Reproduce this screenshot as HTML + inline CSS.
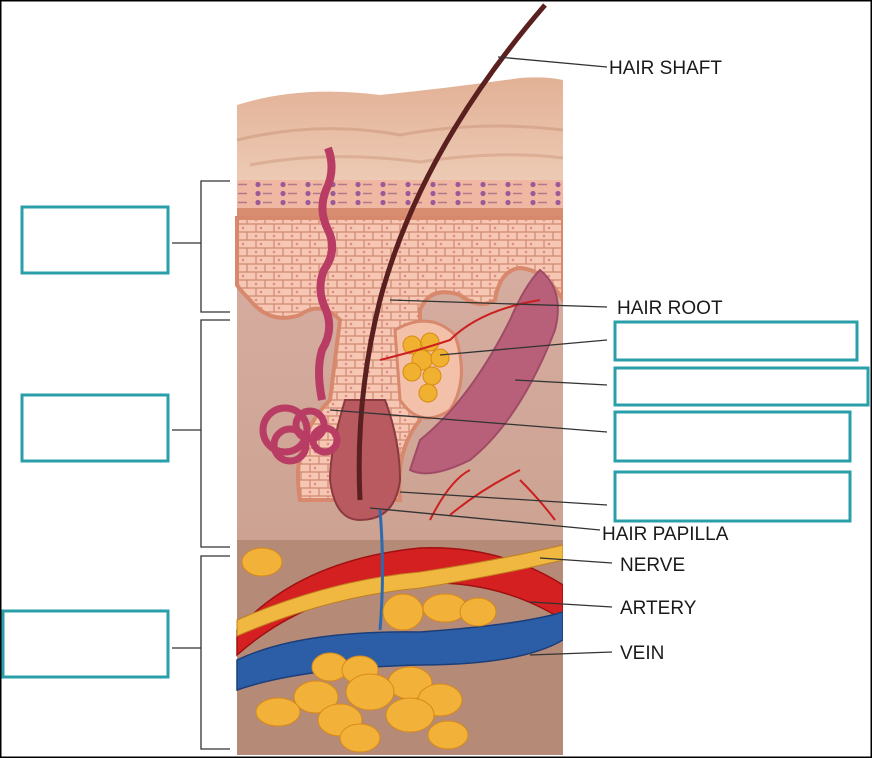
<!DOCTYPE html>
<html><head><meta charset="utf-8"><style>
html,body{margin:0;padding:0;background:#fff}
svg{display:block}
text{font-family:"Liberation Sans",sans-serif;font-size:19px;fill:#1a1a1a}
</style></head><body>
<svg width="872" height="758" viewBox="0 0 872 758">
<defs>
<pattern id="cells" width="18" height="16" patternUnits="userSpaceOnUse">
<rect width="18" height="16" fill="#f6c7b3"/>
<path d="M0 0h18M0 8h18M0 16h18M4 0v8M13 8v8" stroke="#cf8a72" stroke-width="1.2"/>
<circle cx="9" cy="4" r="1.3" fill="#e48a86"/><circle cx="4" cy="12" r="1.3" fill="#e48a86"/>
</pattern>
<pattern id="band" width="25" height="9" patternUnits="userSpaceOnUse">
<rect width="25" height="9" fill="#f0b8a2"/>
<circle cx="8" cy="4.5" r="2.6" fill="#9a5a9a"/><path d="M13 4.5h9" stroke="#b07a8a" stroke-width="1.5"/>
</pattern>
<linearGradient id="top" x1="0" y1="0" x2="0" y2="1"><stop offset="0" stop-color="#e2b196"/><stop offset="1" stop-color="#edcab4"/></linearGradient>
<linearGradient id="bg" x1="0" y1="0" x2="0" y2="1"><stop offset="0" stop-color="#d8b0a4"/><stop offset="1" stop-color="#c69a88"/></linearGradient>
</defs>
<rect x="0.5" y="0.5" width="871" height="757" fill="#fff" stroke="#000" stroke-width="2"/>
<rect x="237" y="180" width="326" height="575" fill="url(#bg)"/>
<rect x="237" y="540" width="326" height="215" fill="#b58a77"/>
<path d="M237 105 Q300 85 380 95 Q450 88 520 78 Q545 76 563 80 V180 H237Z" fill="url(#top)"/>
<path d="M237 140 Q320 120 400 135 Q480 120 563 130" stroke="#d9a98f" fill="none" stroke-width="3"/>
<path d="M250 165 Q330 150 420 162 Q500 150 563 158" stroke="#dcae95" fill="none" stroke-width="3"/>
<rect x="237" y="180" width="326" height="28" fill="url(#band)"/>
<rect x="237" y="208" width="326" height="10" fill="#d88c70"/>
<path d="M237 218 H563 V300 Q545 270 520 268 Q500 270 495 300 Q480 310 460 295 Q430 285 420 310 L420 420 Q395 450 400 500 L300 500 Q290 440 330 400 L340 320 Q320 300 300 315 Q270 325 250 300 Q240 290 237 285Z" fill="url(#cells)" stroke="#d8886c" stroke-width="4"/>
<path d="M395 330 Q430 310 455 335 Q470 380 450 410 Q420 430 400 400Z" fill="#f3c1aa" stroke="#d8886c" stroke-width="3"/>
<g fill="#f0b030" stroke="#d88a10" stroke-width="1">
<circle cx="412" cy="345" r="9"/><circle cx="430" cy="342" r="9"/><circle cx="422" cy="360" r="10"/><circle cx="440" cy="358" r="9"/><circle cx="412" cy="372" r="9"/><circle cx="432" cy="376" r="9"/><circle cx="428" cy="393" r="9"/></g>
<path d="M540 270 Q565 290 555 330 Q520 420 470 460 Q430 480 410 470 L420 440 Q470 400 510 320 Q525 285 540 270Z" fill="#b8607a" stroke="#a04b66" stroke-width="2"/>
<path d="M345 400 Q330 450 330 480 Q335 520 360 520 Q395 520 400 480 Q400 440 385 400Z" fill="#b85a60" stroke="#8a3a40" stroke-width="2"/>
<path d="M328 148 Q336 170 326 190 Q318 210 328 230 Q338 250 324 270 Q316 290 326 310 Q334 330 322 350 Q316 370 322 400" fill="none" stroke="#b83c64" stroke-width="8"/>
<g fill="none" stroke="#b83c64" stroke-width="7"><circle cx="285" cy="430" r="22"/><circle cx="310" cy="425" r="14"/><circle cx="290" cy="445" r="16"/><circle cx="325" cy="440" r="12"/></g>
<path d="M545 5 Q420 150 380 300 Q355 400 360 500" fill="none" stroke="#5a2020" stroke-width="5"/>
<path d="M237 630 Q300 560 420 548 Q500 545 563 585 V620 Q500 580 420 583 Q310 590 237 655Z" fill="#d42020" stroke="#a01010" stroke-width="1.5"/>
<path d="M237 620 Q330 580 420 572 Q500 560 563 545 V560 Q500 575 420 588 Q330 596 237 636Z" fill="#f0b840" stroke="#c08020" stroke-width="1"/>
<path d="M237 660 Q300 630 420 632 Q520 625 563 612 V640 Q520 665 420 665 Q300 668 237 690Z" fill="#2c5ea8" stroke="#1c3e78" stroke-width="1.5"/>
<path d="M380 630 Q385 570 380 510" stroke="#2c6ab0" stroke-width="3" fill="none"/>
<path d="M430 520 Q450 480 470 470 M450 515 Q480 490 520 470 M520 480 Q540 500 555 520 M380 360 Q420 350 450 340 Q480 310 540 300" stroke="#cc2020" stroke-width="2" fill="none"/>
<g fill="#f2b23a" stroke="#d88a18" stroke-width="1">
<ellipse cx="262" cy="562" rx="20" ry="14"/><ellipse cx="403" cy="612" rx="20" ry="18"/><ellipse cx="445" cy="608" rx="22" ry="14"/><ellipse cx="478" cy="612" rx="18" ry="14"/>
<ellipse cx="330" cy="667" rx="18" ry="14"/><ellipse cx="360" cy="670" rx="18" ry="14"/><ellipse cx="410" cy="683" rx="22" ry="16"/><ellipse cx="440" cy="700" rx="22" ry="16"/><ellipse cx="370" cy="692" rx="24" ry="18"/><ellipse cx="316" cy="697" rx="22" ry="16"/><ellipse cx="340" cy="720" rx="22" ry="16"/><ellipse cx="410" cy="715" rx="24" ry="17"/><ellipse cx="278" cy="712" rx="22" ry="14"/><ellipse cx="448" cy="735" rx="20" ry="14"/><ellipse cx="360" cy="738" rx="20" ry="14"/></g>
<rect x="563" y="60" width="20" height="696" fill="#fff"/>
<g stroke="#333" stroke-width="1.3" fill="none">
<path d="M230 181 H201 V312 H230 M172 243 H201"/>
<path d="M230 320 H201 V547 H230 M172 430 H201"/>
<path d="M230 556 H201 V749 H230 M172 648 H201"/>
<path d="M498 57 L607 67 M390 300 L607 307 M440 355 L607 340 M515 380 L607 385 M330 410 L607 432 M400 492 L607 505 M370 508 L600 530 M540 558 L612 563 M530 602 L612 607 M530 655 L612 652"/>
</g>
<g fill="#fff" stroke="#2a9faa" stroke-width="3">
<rect x="22" y="207" width="146" height="66"/><rect x="22" y="395" width="146" height="66"/><rect x="3" y="611" width="165" height="66"/>
<rect x="615" y="322" width="242" height="38"/><rect x="615" y="368" width="253" height="37"/><rect x="615" y="412" width="235" height="49"/><rect x="615" y="472" width="235" height="49"/>
</g>
<text x="609" y="74">HAIR SHAFT</text>
<text x="617" y="314">HAIR ROOT</text>
<text x="602" y="540">HAIR PAPILLA</text>
<text x="620" y="571">NERVE</text>
<text x="620" y="614">ARTERY</text>
<text x="620" y="659">VEIN</text>
</svg>
</body></html>
